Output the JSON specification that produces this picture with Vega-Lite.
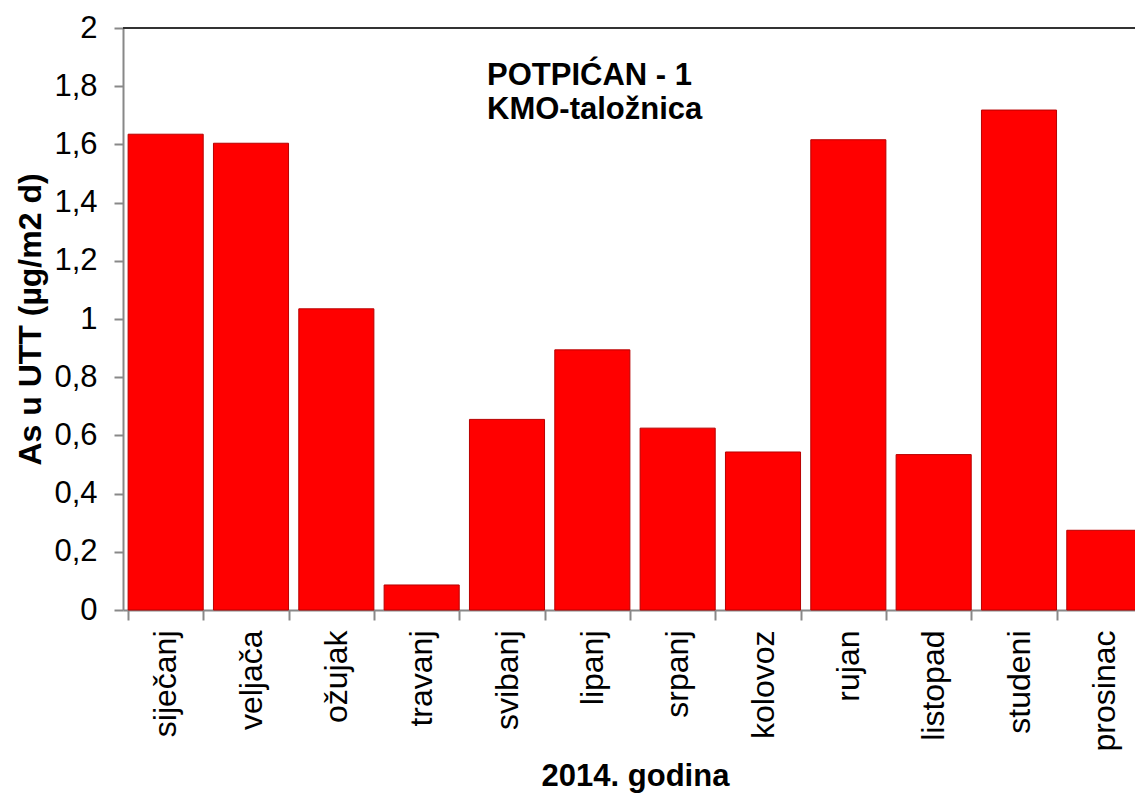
{
  "$schema": "https://vega.github.io/schema/vega-lite/v6.json",
  "width": 1012,
  "height": 582,
  "autosize": {"type": "none"},
  "padding": {"left": 123, "top": 28, "right": 0, "bottom": 184},
  "background": "white",
  "config": {
    "view": {"stroke": null},
    "font": "Liberation Sans"
  },
  "data": {
    "values": [
      {"mjesec": "siječanj", "vrijednost": 1.635},
      {"mjesec": "veljača", "vrijednost": 1.604},
      {"mjesec": "ožujak", "vrijednost": 1.035},
      {"mjesec": "travanj", "vrijednost": 0.086},
      {"mjesec": "svibanj", "vrijednost": 0.655},
      {"mjesec": "lipanj", "vrijednost": 0.894},
      {"mjesec": "srpanj", "vrijednost": 0.625},
      {"mjesec": "kolovoz", "vrijednost": 0.543},
      {"mjesec": "rujan", "vrijednost": 1.616},
      {"mjesec": "listopad", "vrijednost": 0.534},
      {"mjesec": "studeni", "vrijednost": 1.718},
      {"mjesec": "prosinac", "vrijednost": 0.274}
    ]
  },
  "title": {
    "text": ["POTPIĆAN - 1", "KMO-taložnica"],
    "anchor": "start",
    "align": "left",
    "frame": "group",
    "orient": "top",
    "baseline": "top",
    "dx": 364,
    "offset": -114,
    "fontSize": 31,
    "fontWeight": "bold",
    "font": "Liberation Sans",
    "color": "black",
    "lineHeight": 34
  },
  "layer": [
    {
      "mark": {"type": "bar", "fill": "#ff0000", "stroke": "#b80000", "strokeWidth": 1},
      "encoding": {
        "x": {
          "field": "mjesec",
          "type": "nominal",
          "sort": null,
          "scale": {"range": [0, 1024], "paddingInner": 0.12, "paddingOuter": 0.06},
          "axis": {
            "title": "2014. godina",
            "titleFontSize": 31,
            "titleFontWeight": "bold",
            "titleColor": "black",
            "titlePadding": 11,
            "labelAngle": -90,
            "labelFontSize": 32,
            "labelColor": "black",
            "labelPadding": 10,
            "tickBand": "extent",
            "tickSize": 10,
            "tickColor": "#888888",
            "tickWidth": 2,
            "domainColor": "#888888",
            "domainWidth": 2
          }
        },
        "y": {
          "field": "vrijednost",
          "type": "quantitative",
          "scale": {"domain": [0, 2], "nice": false},
          "axis": {
            "title": "As u UTT (µg/m2 d)",
            "titleFontSize": 32,
            "titleFontWeight": "bold",
            "titleColor": "black",
            "titlePadding": 6,
            "values": [0, 0.2, 0.4, 0.6, 0.8, 1, 1.2, 1.4, 1.6, 1.8, 2],
            "labelExpr": "replace(format(datum.value, '~g'), '.', ',')",
            "labelFontSize": 31,
            "labelColor": "black",
            "labelPadding": 17,
            "tickSize": 9,
            "tickColor": "#888888",
            "tickWidth": 2,
            "domainColor": "#888888",
            "domainWidth": 2,
            "grid": false
          }
        }
      }
    },
    {
      "mark": {"type": "rule", "color": "#333333", "strokeWidth": 1.5},
      "encoding": {"y": {"datum": 2}}
    }
  ]
}
